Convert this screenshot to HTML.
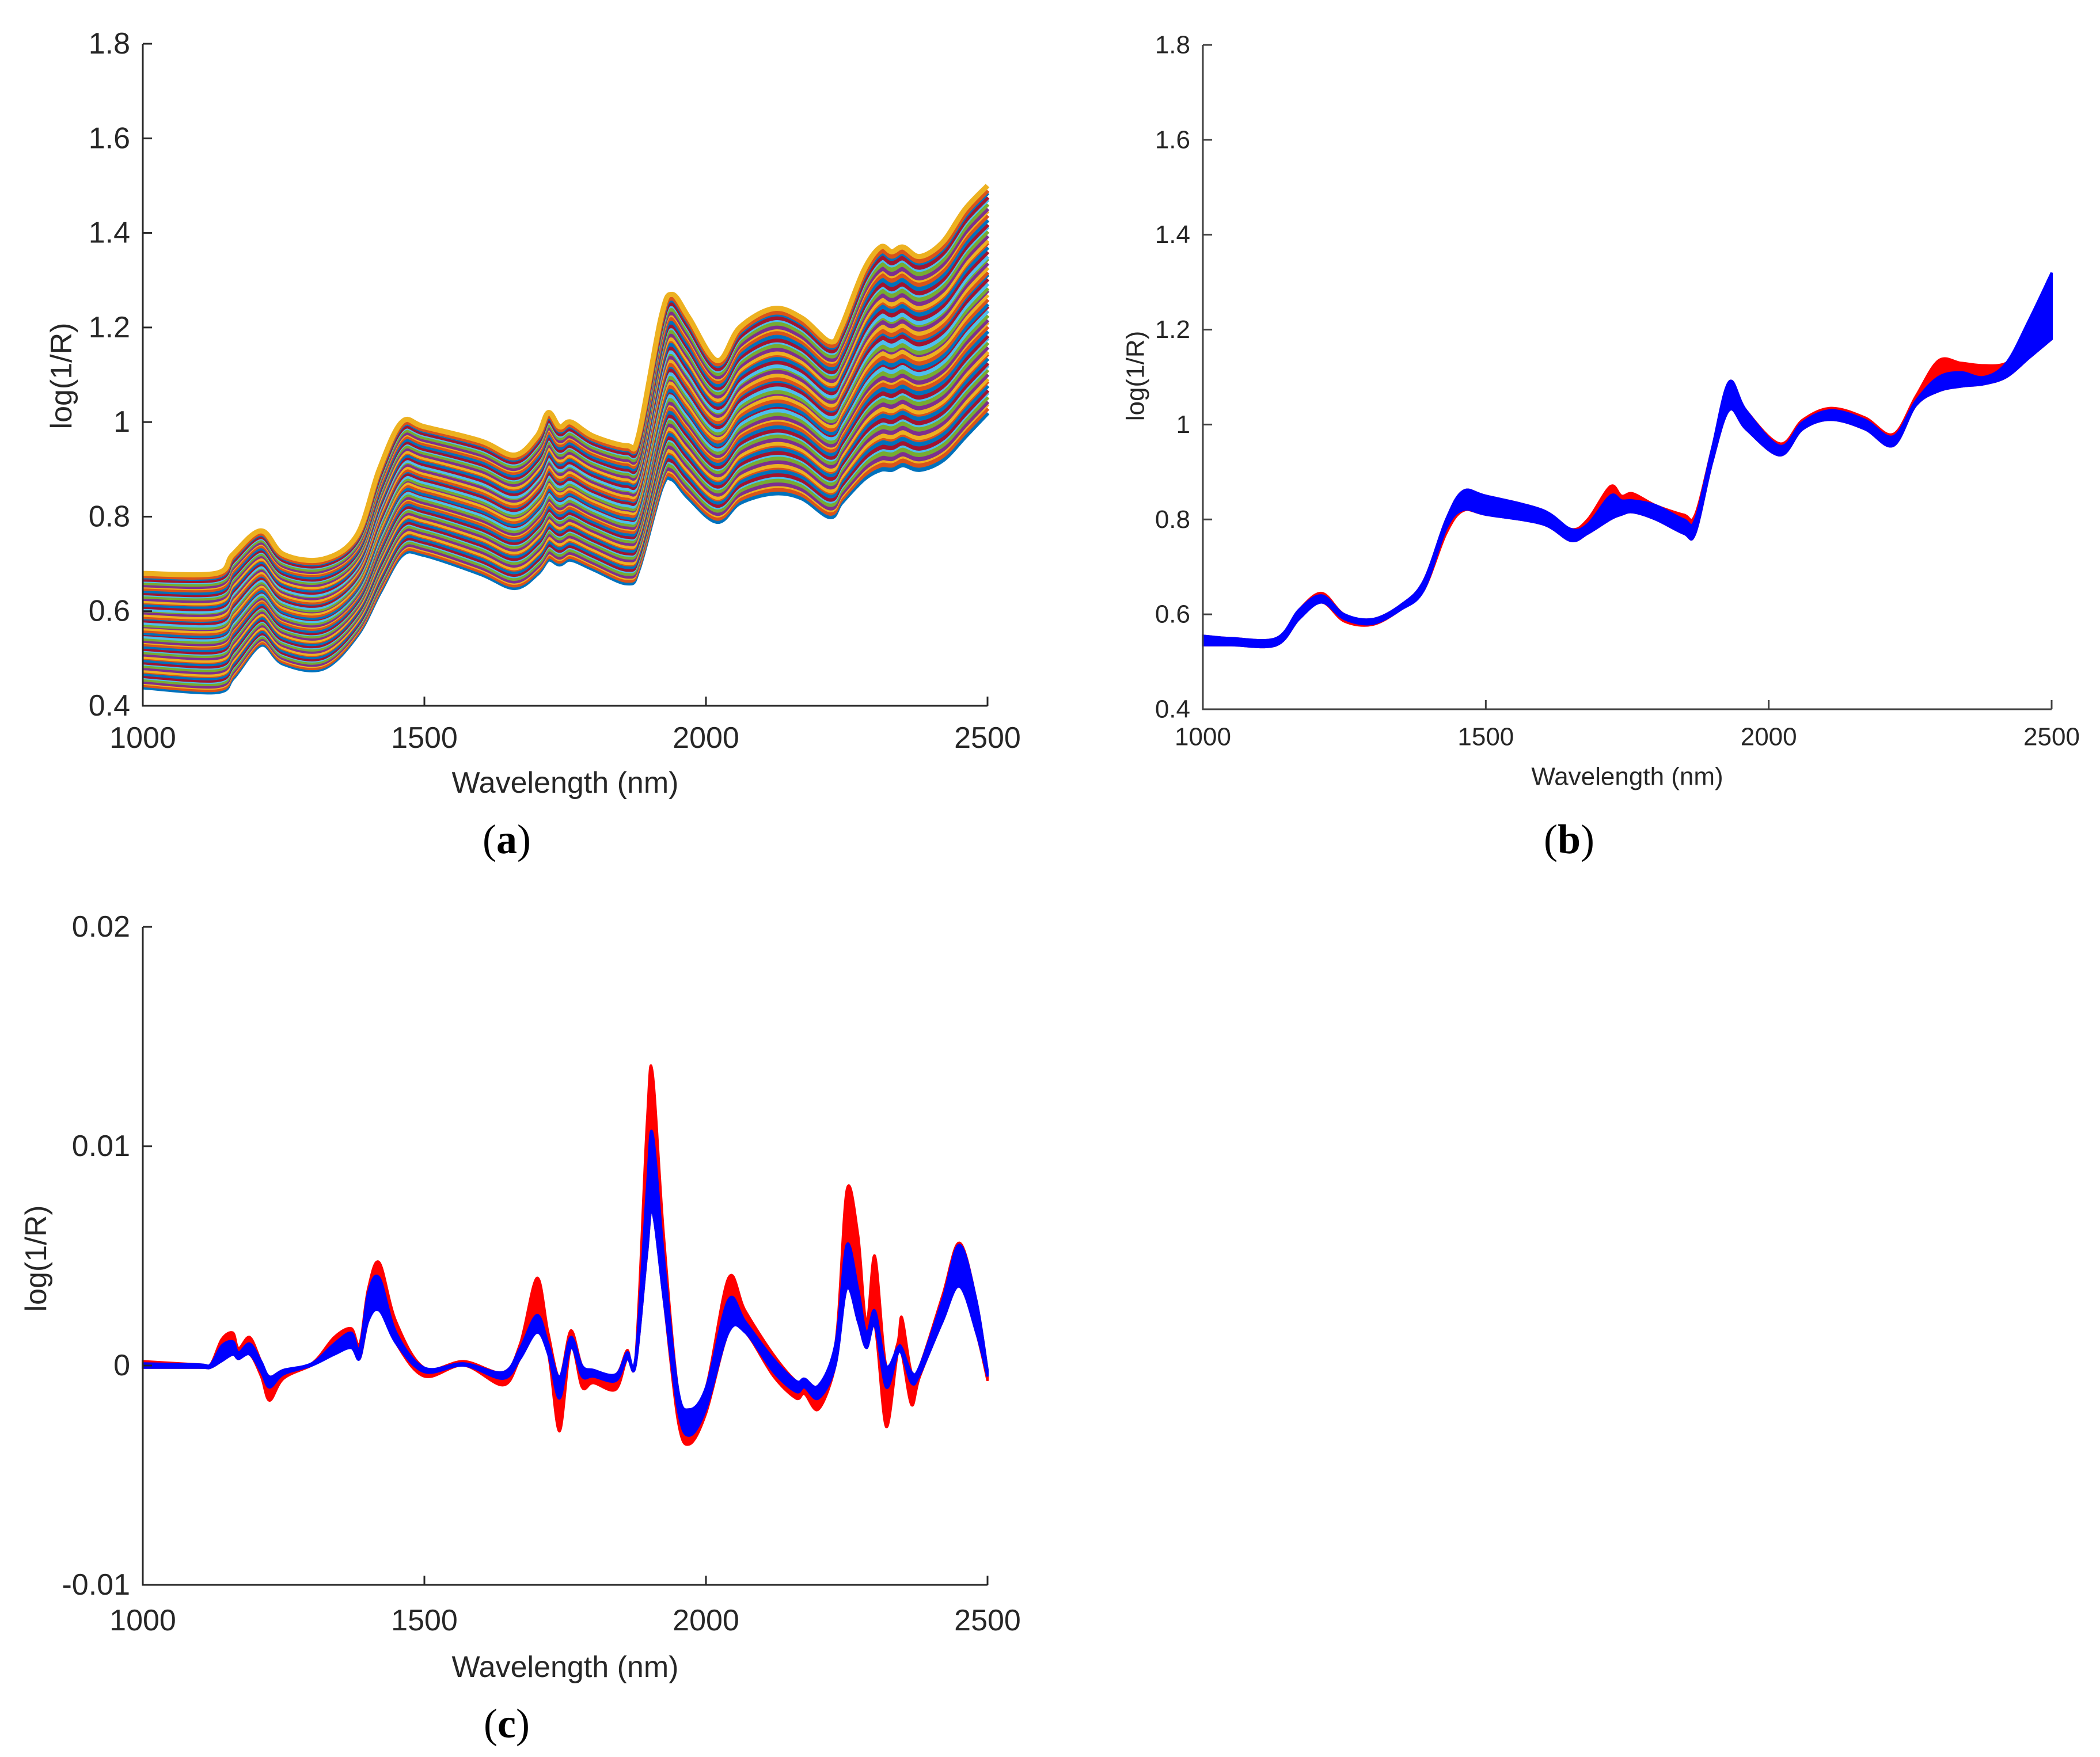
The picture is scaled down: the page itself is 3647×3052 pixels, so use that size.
<!DOCTYPE html>
<html><head><meta charset="utf-8">
<style>
html,body{margin:0;padding:0;background:#fff;}
svg{display:block;}
text{font-family:"Liberation Sans",Arial,sans-serif;fill:#262626;}
.pl{font-family:"Liberation Serif","DejaVu Serif",serif;fill:#000;}
</style></head>
<body>
<svg id="fig" width="3647" height="3052" viewBox="0 0 3647 3052" xmlns="http://www.w3.org/2000/svg">
<rect width="3647" height="3052" fill="#fff"/>
</svg>
<script>
// ---------- Panel (a) data ----------
const aWave = [1000,1130,1160,1210,1250,1320,1380,1420,1460,1500,1600,1660,1700,1720,1740,1760,1800,1860,1880,1920,1940,1970,2020,2060,2120,2170,2220,2240,2280,2310,2330,2350,2380,2420,2460,2500];
const aTop  = [0.68,0.68,0.72,0.77,0.72,0.71,0.76,0.90,1.00,0.99,0.96,0.93,0.97,1.02,0.99,1.00,0.97,0.95,0.97,1.22,1.27,1.22,1.13,1.20,1.24,1.22,1.17,1.20,1.32,1.37,1.36,1.37,1.35,1.38,1.45,1.50];
const aBot  = [0.44,0.43,0.46,0.53,0.49,0.48,0.55,0.64,0.72,0.72,0.68,0.65,0.68,0.71,0.70,0.71,0.69,0.66,0.69,0.86,0.88,0.84,0.79,0.83,0.85,0.84,0.80,0.83,0.88,0.90,0.90,0.91,0.90,0.92,0.97,1.02];
const aSampleLevels = [0.00,0.02,0.04,0.05,0.07,0.09,0.10,0.12,0.14,0.15,0.17,0.19,0.21,0.22,0.24,0.26,0.27,0.29,0.31,0.33,0.34,0.36,0.38,0.40,0.41,0.43,0.45,0.47,0.48,0.50,0.52,0.54,0.55,0.57,0.59,0.61,0.62,0.64,0.66,0.68,0.69,0.71,0.73,0.75,0.76,0.78,0.80,0.82,0.83,0.85,0.87,0.89,0.90,0.92,0.94,0.95,0.97,0.98,1.00];
const aYTicks = [0.4,0.6,0.8,1,1.2,1.4,1.6,1.8];
const aYTickLabels = ["0.4","0.6","0.8","1","1.2","1.4","1.6","1.8"];
const xTicks = [1000,1500,2000,2500];
const xTickLabels = ["1000","1500","2000","2500"];

// ---------- Panel (b) data ----------
const bWave   = [1000,1050,1130,1170,1210,1250,1300,1350,1390,1430,1460,1500,1600,1650,1680,1720,1740,1760,1800,1850,1870,1900,1930,1960,2020,2060,2110,2170,2220,2260,2300,2340,2380,2420,2460,2500];
const bBlueLo = [0.535,0.535,0.535,0.59,0.625,0.59,0.58,0.61,0.65,0.78,0.82,0.81,0.79,0.755,0.77,0.80,0.81,0.815,0.80,0.77,0.77,0.92,1.03,0.99,0.935,0.99,1.01,0.99,0.955,1.04,1.07,1.08,1.085,1.10,1.14,1.18];
const bBlueHi = [0.555,0.55,0.55,0.61,0.64,0.60,0.59,0.62,0.67,0.80,0.86,0.85,0.82,0.78,0.79,0.85,0.84,0.84,0.83,0.80,0.80,0.95,1.09,1.03,0.955,1.005,1.03,1.01,0.975,1.05,1.10,1.11,1.10,1.13,1.22,1.32];
const bRedLo  = [0.535,0.535,0.535,0.59,0.625,0.585,0.578,0.61,0.65,0.77,0.818,0.81,0.79,0.755,0.77,0.80,0.81,0.815,0.80,0.77,0.77,0.92,1.03,0.99,0.935,0.99,1.01,0.99,0.955,1.04,1.07,1.08,1.085,1.10,1.14,1.18];
const bRedHi  = [0.555,0.55,0.55,0.61,0.645,0.60,0.59,0.62,0.67,0.80,0.86,0.85,0.82,0.78,0.80,0.87,0.85,0.855,0.83,0.81,0.81,0.95,1.09,1.03,0.96,1.01,1.035,1.015,0.98,1.06,1.135,1.13,1.125,1.13,1.17,1.20];
const bYTicks = [0.4,0.6,0.8,1,1.2,1.4,1.6,1.8];
const bYTickLabels = ["0.4","0.6","0.8","1","1.2","1.4","1.6","1.8"];

// ---------- Panel (c) data (values ×0.001) ----------
const cWave   = [1000,1100,1120,1140,1160,1170,1190,1210,1225,1250,1300,1340,1370,1385,1400,1420,1450,1500,1570,1640,1670,1700,1720,1740,1760,1780,1800,1840,1860,1875,1895,1905,1925,1950,1970,2000,2040,2070,2120,2160,2175,2200,2230,2250,2270,2285,2300,2320,2340,2348,2365,2380,2420,2450,2480,2500];
const cBlueLo = [-0.1,-0.1,-0.1,0.2,0.5,0.3,0.5,-0.3,-1.0,-0.4,0,0.5,0.8,0.3,2.0,2.5,1.0,-0.3,0,-0.6,0.3,1.5,0.5,-1.5,0.8,-0.5,-0.5,-0.7,0.3,0,5.0,7.0,3.0,-2.0,-3.2,-2.0,1.5,1.5,-0.3,-1.2,-1.0,-1.5,0,3.5,2.0,0.8,1.8,-1.0,0.5,0.5,-0.8,-0.4,2.0,3.6,1.5,-0.5];
const cBlueHi = [0.1,0.05,0.05,0.9,1.1,0.6,1.0,0.2,-0.5,-0.2,0.1,1.0,1.5,0.8,3.3,4.0,1.5,-0.1,0.1,-0.3,0.8,2.3,1.0,-0.5,1.3,0,-0.2,-0.4,0.6,0.4,8.0,10.6,5.0,-1.0,-2.0,-1.0,3.0,2.0,0.3,-0.7,-0.6,-0.9,1.0,5.5,3.5,1.5,2.5,0,0.8,0.8,-0.3,0,3.0,5.5,3.0,-0.2];
const cRedLo  = [-0.1,-0.1,-0.1,0.2,0.5,0.3,0.5,-0.5,-1.6,-0.6,0,0.6,1.0,0.3,2.0,2.8,1.0,-0.5,0,-0.9,0.3,1.5,0.5,-3.0,0.8,-1.0,-0.8,-1.1,0.3,0,5.0,7.0,3.0,-2.5,-3.6,-2.2,1.5,1.5,-0.5,-1.5,-1.3,-2.0,0,3.5,2.0,0.8,1.8,-2.8,0.5,0.5,-1.8,-0.5,2.0,3.6,1.5,-0.7];
const cRedHi  = [0.2,0.05,0.05,1.2,1.5,0.8,1.3,0.2,-0.5,-0.2,0.1,1.3,1.7,1.0,3.5,4.7,2.0,-0.1,0.2,-0.3,1.0,4.0,1.5,-0.5,1.6,0,-0.2,-0.4,0.7,0.4,11.0,13.4,6.0,-1.0,-2.0,-1.0,4.0,2.5,0.5,-0.7,-0.6,-0.9,1.0,8.0,6.0,2.0,5.0,0,1.0,2.2,-0.3,0,3.2,5.6,3.0,-0.2];
const cYTicks = [-0.01,0,0.01,0.02];
const cYTickLabels = ["-0.01","0","0.01","0.02"];

const NS = "http://www.w3.org/2000/svg";
const svg = document.getElementById('fig');
function mk(tag, attrs, parent){
  const e = document.createElementNS(NS, tag);
  for (const k in attrs) e.setAttribute(k, attrs[k]);
  (parent||svg).appendChild(e);
  return e;
}
function scale(d0,d1,r0,r1){ return v => r0 + (v-d0)/(d1-d0)*(r1-r0); }
function crPath(pts){
  let d = "M"+pts[0][0].toFixed(1)+","+pts[0][1].toFixed(1);
  for (let i=0;i<pts.length-1;i++){
    const p0=pts[Math.max(0,i-1)], p1=pts[i], p2=pts[i+1], p3=pts[Math.min(pts.length-1,i+2)];
    const c1x=p1[0]+(p2[0]-p0[0])/6, c1y=p1[1]+(p2[1]-p0[1])/6;
    const c2x=p2[0]-(p3[0]-p1[0])/6, c2y=p2[1]-(p3[1]-p1[1])/6;
    d += " C"+c1x.toFixed(1)+","+c1y.toFixed(1)+" "+c2x.toFixed(1)+","+c2y.toFixed(1)+" "+p2[0].toFixed(1)+","+p2[1].toFixed(1);
  }
  return d;
}
function bandPath(xs, lo, hi, sx, sy){
  const top = xs.map((w,i)=>[sx(w), sy(hi[i])]);
  const bot = xs.map((w,i)=>[sx(w), sy(lo[i])]).reverse();
  const d1 = crPath(top);
  const d2 = crPath(bot).replace(/^M/, " L");
  return d1 + d2 + " Z";
}
function axes(g, L, R, T, B, sx, sy, yt, ytl, fs, col, sw, yLabX, yLabY, xTitleY, xLabY){
  const frame = mk('path', {d:`M${L},${T} L${L},${B} L${R},${B}`, fill:'none', stroke:col, 'stroke-width':sw}, g);
  
  
  yt.forEach((v,i)=>{
    const y = sy(v);
    const tk = mk('line', {x1:L, y1:y, x2:L+16, y2:y, stroke:col, 'stroke-width':sw}, g);
    
    
    const t = mk('text', {x:L-22, y:y, 'text-anchor':'end', 'dominant-baseline':'central', 'font-size':fs}, g);
    
    
    t.textContent = ytl[i];
  });
  xTicks.forEach((v,i)=>{
    const x = sx(v);
    const tk = mk('line', {x1:x, y1:B, x2:x, y2:B-16, stroke:col, 'stroke-width':sw}, g);
    
    
    const t = mk('text', {x:x, y:xLabY, 'text-anchor':'middle', 'dominant-baseline':'central', 'font-size':fs}, g);
    
    
    t.textContent = xTickLabels[i];
  });
  const xt = mk('text', {x:(L+R)/2, y:xTitleY, 'text-anchor':'middle', 'dominant-baseline':'central', 'font-size':fs}, g);
  
  
  xt.textContent = 'Wavelength (nm)';
  const ytx = mk('text', {x:yLabX, y:yLabY, 'text-anchor':'middle', 'dominant-baseline':'central', 'font-size':fs, transform:`rotate(-90 ${yLabX} ${yLabY})`}, g);
  
  
  ytx.textContent = 'log(1/R)';
}
function panelLabel(letter, x, y){
  const t = mk('text', {x:x, y:y, 'text-anchor':'middle', 'dominant-baseline':'central', 'font-size':72, class:'pl'});
  
  
  const s1 = mk('tspan', {}, t); s1.textContent='(';
  const s2 = mk('tspan', {'font-weight':'bold'}, t); s2.textContent=letter;
  const s3 = mk('tspan', {}, t); s3.textContent=')';
}

// ----- Panel a -----
(function(){
  const L=248,R=1715,T=76,B=1226;
  const sx=scale(1000,2500,L,R), sy=scale(0.4,1.8,B,T);
  const g = mk('g', {});
  
  
  const colors = ['#0072BD','#D95319','#EDB120','#7E2F8E','#77AC30','#4DBEEE','#A2142F'];
  aSampleLevels.forEach((f,k)=>{
    const pts = aWave.map((w,i)=>[sx(w), sy(aBot[i] + f*(aTop[i]-aBot[i]))]);
    const p = mk('path', {d:crPath(pts), fill:'none', stroke:colors[k%7], 'stroke-width':9}, g);
    
    
  });
  axes(g,L,R,T,B,sx,sy,aYTicks,aYTickLabels,52,'#262626',3,107,653,1360,1282);
  panelLabel('a', 880, 1458);
})();

// ----- Panel b -----
(function(){
  const L=2089,R=3563,T=78,B=1232;
  const sx=scale(1000,2500,L,R), sy=scale(0.4,1.8,B,T);
  const g = mk('g', {});
  
  
  const r = mk('path', {d:bandPath(bWave,bRedLo,bRedHi,sx,sy), fill:'#ff0000', stroke:'#ff0000', 'stroke-width':4}, g);
  
  
  const b = mk('path', {d:bandPath(bWave,bBlueLo,bBlueHi,sx,sy), fill:'#0000ff', stroke:'#0000ff', 'stroke-width':4}, g);
  
  
  axes(g,L,R,T,B,sx,sy,bYTicks,bYTickLabels,44,'#404040',3,1972,653,1349,1280);
  panelLabel('b', 2725, 1458);
})();

// ----- Panel c -----
(function(){
  const L=248,R=1715,T=1610,B=2753;
  const sx=scale(1000,2500,L,R), sy=scale(-0.01,0.02,B,T);
  const sy3 = v => sy(v*0.001);
  const g = mk('g', {});
  
  
  const r = mk('path', {d:bandPath(cWave,cRedLo,cRedHi,sx,sy3), fill:'#ff0000', stroke:'#ff0000', 'stroke-width':4}, g);
  
  
  const b = mk('path', {d:bandPath(cWave,cBlueLo,cBlueHi,sx,sy3), fill:'#0000ff', stroke:'#0000ff', 'stroke-width':4}, g);
  
  
  axes(g,L,R,T,B,sx,sy,cYTicks,cYTickLabels,52,'#262626',3,63,2186,2896,2815);
  panelLabel('c', 880, 2994);
})();
</script>
</body></html>
